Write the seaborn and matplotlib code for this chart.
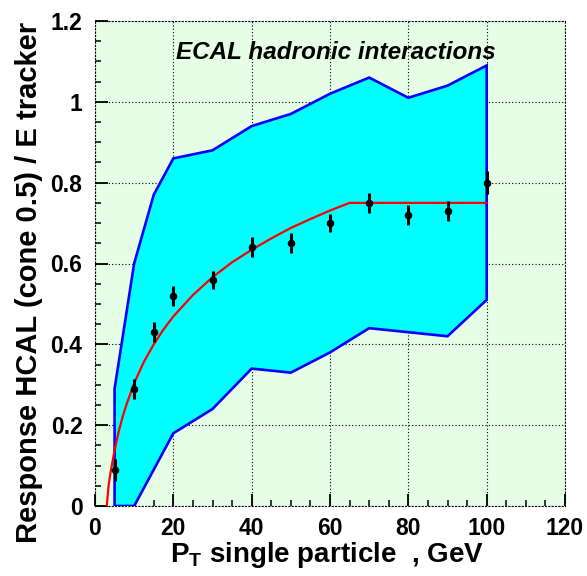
import matplotlib
matplotlib.use("Agg")
import matplotlib.pyplot as plt
import seaborn as sns
import pandas as pd
import numpy as np
from matplotlib.ticker import MultipleLocator

# ---- data ----
pt_points = [5, 10, 15, 20, 30, 40, 50, 60, 70, 80, 90, 100]
response = [0.09, 0.29, 0.43, 0.52, 0.56, 0.64, 0.65, 0.70, 0.75, 0.72, 0.73, 0.80]
response_err = [0.027, 0.025, 0.025, 0.025, 0.022, 0.025, 0.025, 0.022, 0.025, 0.025, 0.025, 0.028]

band_x = [5, 10, 15, 20, 30, 40, 50, 60, 70, 80, 90, 100]
band_upper = [0.29, 0.60, 0.77, 0.86, 0.88, 0.94, 0.97, 1.02, 1.06, 1.01, 1.04, 1.09]
band_lower_x = [5, 10, 20, 30, 40, 50, 60, 70, 80, 90, 100]
band_lower = [0.0, 0.0, 0.18, 0.24, 0.34, 0.33, 0.38, 0.44, 0.43, 0.42, 0.51]

fit_x = [3.0, 3.5, 4, 5, 6, 7, 8, 10, 12.5, 15, 17.5, 20, 25, 30, 35, 40, 45, 50, 55, 60, 65, 100]
fit_y = [0.0, 0.053, 0.085, 0.138, 0.182, 0.219, 0.250, 0.304, 0.357, 0.400, 0.437,
         0.469, 0.522, 0.566, 0.603, 0.634, 0.662, 0.688, 0.710, 0.731, 0.750, 0.750]

y_ticks = [0, 0.2, 0.4, 0.6, 0.8, 1.0, 1.2]
y_tick_labels = ["0", "0.2", "0.4", "0.6", "0.8", "1", "1.2"]

title_text = "ECAL hadronic interactions"
x_label = r"$\mathbf{P}_\mathbf{T}$ single particle  , GeV"
y_label = "Response HCAL (cone 0.5) / E tracker"

# ---- style ----
sns.set_theme(style="ticks")
plt.rcParams["font.family"] = ["Liberation Sans", "DejaVu Sans"]
plt.rcParams["font.weight"] = "bold"
plt.rcParams["text.color"] = "black"
plt.rcParams["axes.labelcolor"] = "black"
plt.rcParams["xtick.color"] = "black"
plt.rcParams["ytick.color"] = "black"
plt.rcParams["mathtext.fontset"] = "custom"
plt.rcParams["mathtext.rm"] = "Liberation Sans"
plt.rcParams["mathtext.bf"] = "Liberation Sans:bold"
plt.rcParams["mathtext.it"] = "Liberation Sans:italic"

fig = plt.figure(figsize=(5.87, 5.76), dpi=100)
ax = fig.add_axes([95 / 587, 1 - 506 / 576, 470 / 587, 485 / 576])
ax.set_facecolor("#e6fde6")

# band polygon
poly_x = band_x + band_lower_x[::-1]
poly_y = band_upper + band_lower[::-1]
ax.fill(poly_x, poly_y, facecolor="#00ffff", edgecolor="#0000ff", linewidth=1.9, zorder=2)

# fit curve
fit_df = pd.DataFrame({"x": fit_x, "y": fit_y})
sns.lineplot(data=fit_df, x="x", y="y", color="#ff0000", linewidth=1.6, sort=False,
             estimator=None, ax=ax, zorder=3)

# data points
pts_df = pd.DataFrame({"x": pt_points, "y": response})
ax.errorbar(pt_points, response, yerr=response_err, fmt="none", ecolor="black",
            elinewidth=2.2, capsize=0, zorder=4)
sns.scatterplot(data=pts_df, x="x", y="y", color="black", s=30, edgecolor="black",
                linewidth=0, ax=ax, zorder=5)

ax.set_xlim(0, 120)
ax.set_ylim(0, 1.2)
ax.xaxis.set_major_locator(MultipleLocator(20))
ax.xaxis.set_minor_locator(MultipleLocator(5))
ax.yaxis.set_minor_locator(MultipleLocator(0.05))
ax.set_yticks(y_ticks)
ax.set_yticklabels(y_tick_labels)

ax.grid(True, which="major", color="black", linestyle=(0, (1, 2)), linewidth=0.8, zorder=1)
ax.set_axisbelow(True)
for sp in ax.spines.values():
    sp.set_linestyle((0, (1, 2)))
    sp.set_linewidth(0.8)
    sp.set_color("black")
    sp.set_visible(True)

ax.tick_params(axis="both", which="major", direction="in", length=9, width=1.3,
               color="black", labelsize=16.5, pad=8)
ax.tick_params(axis="both", which="minor", direction="in", length=4.5, width=1.1,
               color="black")
ax.tick_params(axis="y", which="major", pad=9)
for lab in ax.get_xticklabels() + ax.get_yticklabels():
    lab.set_fontweight("bold")

ax.set_xlabel(x_label, fontsize=20, fontweight="bold")
ax.set_ylabel(y_label, fontsize=21, fontweight="bold")
ax.xaxis.set_label_coords((327 - 95) / 470, (506 - 555) / 485)
ax.xaxis.label.set_verticalalignment("center")
ax.yaxis.set_label_coords((29 - 95) / 470, (506 - 282) / 485)
ax.yaxis.label.set_verticalalignment("center")

ax.text((176 - 95) / 470, (506 - 59) / 485, title_text, transform=ax.transAxes,
        fontsize=17.5, fontweight="bold", fontstyle="italic", ha="left", va="baseline",
        zorder=6)

fig.savefig("out.png", dpi=100)
